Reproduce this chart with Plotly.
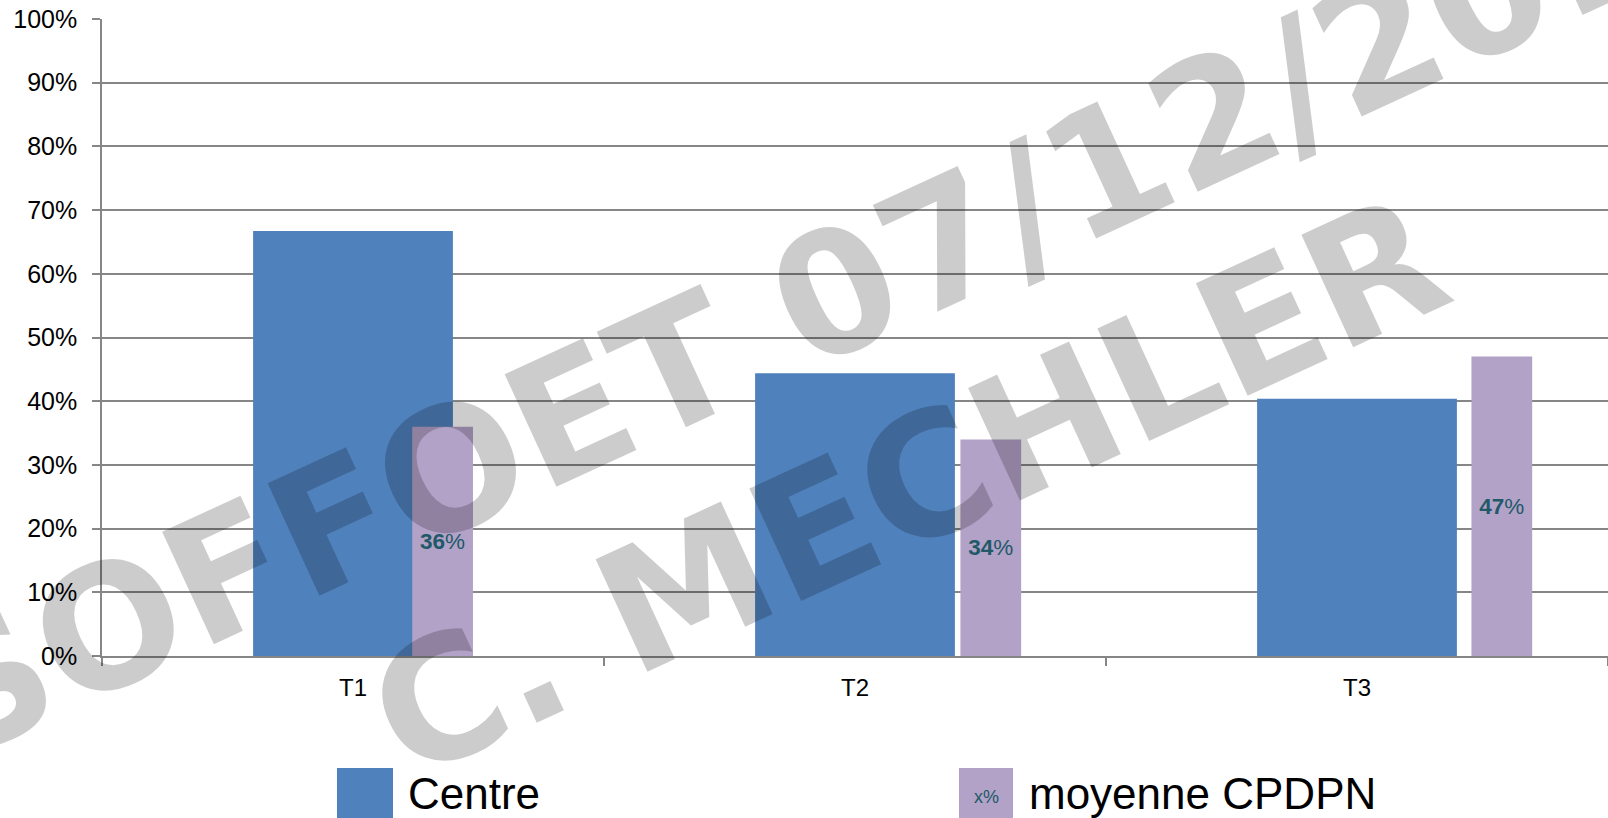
import plotly.graph_objects as go

# ---- data -------------------------------------------------------------
categories = ["T1", "T2", "T3"]
centre = [66.7, 44.4, 40.4]          # Centre (%)
cpdpn = [36, 34, 47]                 # moyenne CPDPN (%)
cpdpn_labels = [f"<b>{v}</b>%" for v in cpdpn]

# ---- styling ----------------------------------------------------------
W, H = 1608, 818
M_L, M_R, M_T, M_B = 102, 0, 19, 162
BLUE = "#4F81BD"
PURPLE = "#B3A2C7"
TEAL = "#215968"
GRID = "#868686"
WATERMARK = "rgba(0,0,0,0.2)"

cpdpn_offset = [0.118, 0.210, 0.228]   # bar placement within each category
cpdpn_width = 0.121


def px_x(p):
    """pixel column -> paper x"""
    return (p - M_L) / (W - M_L - M_R)


def px_y(p):
    """pixel row -> paper y"""
    return (H - M_B - p) / (H - M_T - M_B)


fig = go.Figure()

fig.add_trace(go.Bar(
    x=categories, y=centre, name="Centre",
    marker=dict(color=BLUE, line=dict(width=0)),
    width=0.398, hoverinfo="skip",
))

fig.add_trace(go.Bar(
    x=categories, y=cpdpn, name="moyenne CPDPN",
    marker=dict(color=PURPLE, line=dict(width=0)),
    width=cpdpn_width, offset=cpdpn_offset,
    text=cpdpn_labels, texttemplate="%{text}",
    textposition="inside", insidetextanchor="middle",
    textangle=0, constraintext="none",
    insidetextfont=dict(family="Liberation Sans", size=22.5, color=TEAL),
    hoverinfo="skip",
))

fig.update_layout(
    width=W, height=H,
    margin=dict(l=M_L, r=M_R, t=M_T, b=M_B, pad=0),
    paper_bgcolor="white", plot_bgcolor="white",
    barmode="overlay", showlegend=False,
    font=dict(family="Liberation Sans", color="black"),
)

fig.update_xaxes(
    type="category", range=[-0.5, 2.5],
    showline=True, linecolor=GRID, linewidth=1.5,
    ticks="outside", tickson="boundaries", ticklen=8, tickcolor=GRID, tickwidth=1.5,
    tickfont=dict(family="Liberation Sans", size=24, color="black"),
    ticklabelstandoff=9,
    showgrid=False, zeroline=False,
)

fig.update_yaxes(
    range=[0, 100], dtick=10, ticksuffix="%",
    showline=True, linecolor=GRID, linewidth=1.5,
    ticks="outside", ticklen=8, tickcolor=GRID, tickwidth=1.5,
    tickfont=dict(family="Liberation Sans", size=25, color="black"),
    ticklabelstandoff=10,
    showgrid=True, gridcolor=GRID, gridwidth=1.5,
    zeroline=False,
)

# ---- legend drawn as large swatches -----------------------------------
shapes = [
    dict(type="rect", xref="paper", yref="paper",
         x0=px_x(337), x1=px_x(393), y0=px_y(768), y1=px_y(830),
         fillcolor=BLUE, line=dict(width=0), layer="above"),
    dict(type="rect", xref="paper", yref="paper",
         x0=px_x(959), x1=px_x(1013), y0=px_y(768), y1=px_y(830),
         fillcolor=PURPLE, line=dict(width=0), layer="above"),
]

annotations = [
    dict(text="Centre", xref="paper", yref="paper", x=px_x(406), y=px_y(793),
         xanchor="left", yanchor="middle", showarrow=False,
         font=dict(family="Liberation Sans", size=44, color="black")),
    dict(text="moyenne CPDPN", xref="paper", yref="paper", x=px_x(1027), y=px_y(793),
         xanchor="left", yanchor="middle", showarrow=False,
         font=dict(family="Liberation Sans", size=44, color="black")),
    dict(text="x%", xref="paper", yref="paper", x=px_x(986), y=px_y(797),
         xanchor="center", yanchor="middle", showarrow=False,
         font=dict(family="Liberation Sans", size=18, color=TEAL)),
    # watermark
    dict(text="SOFFOET 07/12/2011", xref="paper", yref="paper",
         x=px_x(843), y=px_y(290), xanchor="center", yanchor="middle",
         textangle=-24.7, showarrow=False,
         font=dict(family="DejaVu Sans", size=170, weight="bold", color=WATERMARK)),
    dict(text="C. MECHLER", xref="paper", yref="paper",
         x=px_x(908), y=px_y(487), xanchor="center", yanchor="middle",
         textangle=-24.7, showarrow=False,
         font=dict(family="DejaVu Sans", size=170, weight="bold", color=WATERMARK)),
]

fig.update_layout(shapes=shapes, annotations=annotations)

fig.write_html("out.html")
